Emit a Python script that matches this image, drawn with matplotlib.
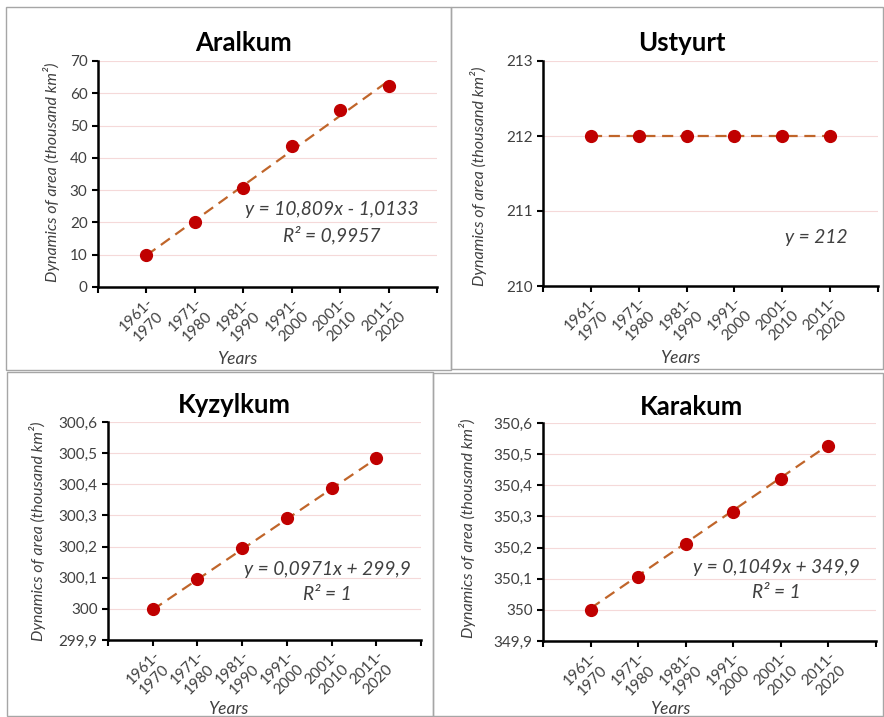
import numpy as np
import matplotlib
matplotlib.use('Agg')
import matplotlib.pyplot as plt
from matplotlib.patches import Rectangle

plt.rcParams['font.family'] = ['Lato', 'DejaVu Sans']

W, H = 884, 717

periods = ['1961-\n1970', '1971-\n1980', '1981-\n1990', '1991-\n2000', '2001-\n2010', '2011-\n2020']

aralkum = [10.0, 20.0, 30.7, 43.8, 54.7, 62.2]
ustyurt = [212, 212, 212, 212, 212, 212]
kyzylkum = [300.0, 300.097, 300.194, 300.291, 300.388, 300.485]
karakum = [350.0, 350.105, 350.21, 350.315, 350.42, 350.525]

# trendline coefficients shown on the chart
aralkum_fit = (10.809, -1.0133)
ustyurt_fit = (0.0, 212.0)
kyzylkum_fit = (0.0971, 299.9)
karakum_fit = (0.1049, 349.9)

aralkum_ticks = [0, 10, 20, 30, 40, 50, 60, 70]
ustyurt_ticks = [210, 211, 212, 213]
kyzylkum_ticks = [299.9, 300.0, 300.1, 300.2, 300.3, 300.4, 300.5, 300.6]
karakum_ticks = [349.9, 350.0, 350.1, 350.2, 350.3, 350.4, 350.5, 350.6]


def fx(px):
    return px / W


def fy(py):
    return 1 - py / H


def fmt(v):
    s = '{:g}'.format(round(v, 1))
    return s.replace('.', ',')


fig = plt.figure(figsize=(W / 100, H / 100), dpi=100)

# panel frames
for x0, y0, x1, y1 in [(6, 7, 451, 370), (451, 7, 883, 369), (7, 372, 433, 716), (433, 373, 883, 716)]:
    fig.patches.append(Rectangle((fx(x0), fy(y1)), fx(x1 - x0), (y1 - y0) / H,
                                 transform=fig.transFigure, fill=False,
                                 edgecolor='#a6a6a6', lw=1.0))

panels = [
    dict(name='Aralkum', vals=aralkum, fit=aralkum_fit, ticks=aralkum_ticks,
         box=(98, 61, 437, 287), title=(244, 43), ylab=(52, 172), xlab=(237, 359),
         eq=['y = 10,809x - 1,0133', 'R² = 0,9957'], eqpos=(332, 210)),
    dict(name='Ustyurt', vals=ustyurt, fit=ustyurt_fit, ticks=ustyurt_ticks,
         box=(543, 61, 878, 286), title=(682, 43), ylab=(479, 176), xlab=(680, 358),
         eq=['y = 212'], eqpos=(816, 238)),
    dict(name='Kyzylkum', vals=kyzylkum, fit=kyzylkum_fit, ticks=kyzylkum_ticks,
         box=(108, 422, 421, 640), title=(234, 405), ylab=(38, 531), xlab=(228, 709),
         eq=['y = 0,0971x + 299,9', 'R² = 1'], eqpos=(327, 569)),
    dict(name='Karakum', vals=karakum, fit=karakum_fit, ticks=karakum_ticks,
         box=(543, 423, 876, 641), title=(691, 407), ylab=(467, 528), xlab=(670, 709),
         eq=['y = 0,1049x + 349,9', 'R² = 1'], eqpos=(776, 567)),
]

x = np.arange(1, len(periods) + 1)

for p in panels:
    l, t, r, b = p['box']
    ax = fig.add_axes([fx(l), fy(b), fx(r - l), (b - t) / H])
    ticks = p['ticks']
    ax.set_xlim(0, 7)
    ax.set_ylim(ticks[0], ticks[-1])
    for v in ticks[1:]:
        ax.axhline(v, color='#f5d9d9', lw=0.8, zorder=0)
    k, c = p['fit']
    ax.plot(x, k * x + c, color='#c0652a', lw=1.6, dashes=(5, 3), zorder=2)
    ax.plot(x, p['vals'], 'o', color='#c00000', ms=8.5, zorder=3)

    ax.set_yticks(ticks)
    ax.set_yticklabels([fmt(v) for v in ticks], fontsize=11, color='#404040')
    ax.set_xticks(x)
    ax.set_xticklabels(periods, fontsize=11, color='#404040', rotation=45,
                       ha='right', va='top', rotation_mode='anchor',
                       multialignment='center', linespacing=1.25)
    ax.set_xticks([0, 7], minor=True)
    ax.tick_params(axis='both', which='both', direction='out', length=4, width=1.5, color='black')
    ax.tick_params(axis='x', which='major', pad=2)
    for s in ['top', 'right']:
        ax.spines[s].set_visible(False)
    for s in ['left', 'bottom']:
        ax.spines[s].set_linewidth(1.8)
        ax.spines[s].set_color('black')

    fig.text(fx(p['title'][0]), fy(p['title'][1]), p['name'], ha='center', va='center',
             fontsize=18.5, fontweight='bold')
    fig.text(fx(p['ylab'][0]), fy(p['ylab'][1]), 'Dynamics of area (thousand km²)',
             ha='center', va='center', rotation=90, fontsize=11.5, style='italic', color='#404040')
    fig.text(fx(p['xlab'][0]), fy(p['xlab'][1]), 'Years', ha='center', va='center',
             fontsize=12.5, style='italic', color='#404040')
    ex, ey = p['eqpos']
    for i, line in enumerate(p['eq']):
        fig.text(fx(ex), fy(ey + 25 * i), line, ha='center', va='center',
                 fontsize=13.8, style='italic', color='#404040')

fig.savefig('out.png', dpi=100)
